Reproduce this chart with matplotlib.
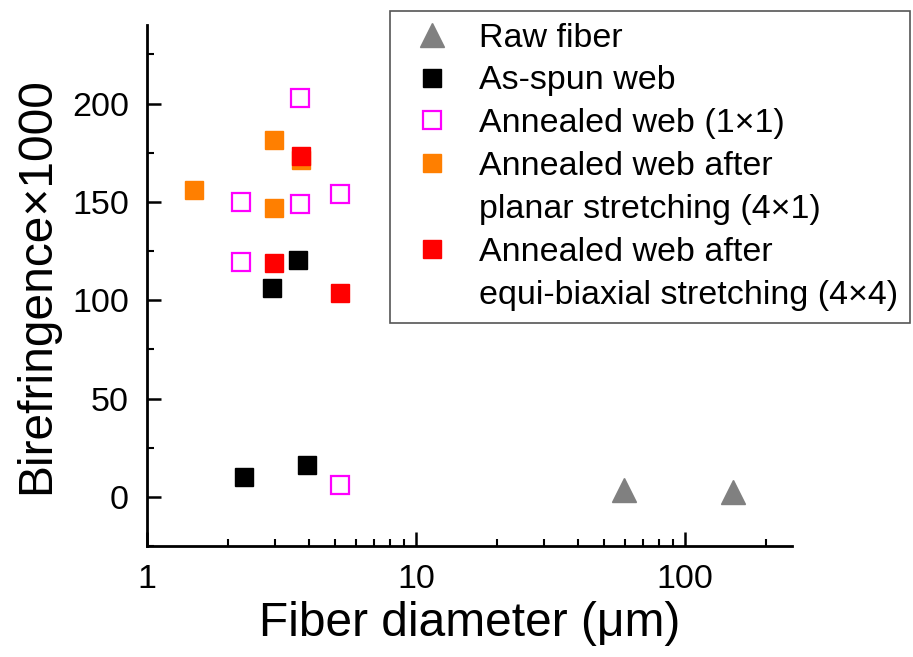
import numpy as np
import matplotlib.pyplot as plt
from matplotlib.lines import Line2D
from matplotlib.ticker import LogLocator, NullFormatter, FixedLocator

plt.rcParams['font.family'] = ['Liberation Sans', 'DejaVu Sans']

# data
raw_d = [59.5, 151]
raw_b = [3.5, 2.5]

spun_d = [2.30, 3.94, 2.92, 3.64]
spun_b = [10.2, 16.2, 106, 120.7]

ann_d = [5.2, 2.23, 5.2, 2.23, 3.71, 3.71]
ann_b = [5.8, 119.2, 153.9, 150, 148.8, 203]

planar_d = [1.49, 2.97, 2.97, 3.74]
planar_b = [156.3, 147, 181.5, 171.4]

biax_d = [2.97, 5.23, 3.74]
biax_b = [119, 103.7, 173.3]

labels = ['Raw fiber', 'As-spun web', 'Annealed web (1\u00d71)',
          'Annealed web after', 'planar stretching (4\u00d71)',
          'Annealed web after', 'equi-biaxial stretching (4\u00d74)']

fig = plt.figure(figsize=(9.13, 6.57), dpi=100)
ax = fig.add_axes([147/913, 1-546/657, (792-147)/913, (546-25)/657])

MS = 13.5
h_raw, = ax.plot(raw_d, raw_b, ls='none', marker='^', ms=17, color='#808080')
h_spun, = ax.plot(spun_d, spun_b, ls='none', marker='s', ms=MS, color='black')
h_ann, = ax.plot(ann_d, ann_b, ls='none', marker='s', ms=MS-1, mfc='white', mec='#ff00ff', mew=1.6)
h_pl, = ax.plot(planar_d, planar_b, ls='none', marker='s', ms=MS, color='#ff7f00')
h_bi, = ax.plot(biax_d, biax_b, ls='none', marker='s', ms=MS, color='#ff0000')
blank = Line2D([], [], ls='none')

ax.set_xscale('log')
ax.set_xlim(1, 250)
ax.set_ylim(-25, 240)

ax.spines['top'].set_visible(False)
ax.spines['right'].set_visible(False)
ax.spines['left'].set_linewidth(2)
ax.spines['bottom'].set_linewidth(2)

ax.yaxis.set_major_locator(FixedLocator([0, 50, 100, 150, 200]))
ax.yaxis.set_minor_locator(FixedLocator([-25, 25, 75, 125, 175, 225]))
ax.xaxis.set_major_locator(FixedLocator([1, 10, 100]))
ax.xaxis.set_minor_locator(LogLocator(base=10, subs=np.arange(2, 10)))
ax.xaxis.set_minor_formatter(NullFormatter())
ax.set_xticklabels(['1', '10', '100'])

ax.tick_params(which='major', direction='in', length=10, width=1.8, labelsize=24.5, pad=13)
ax.tick_params(which='minor', direction='in', length=5, width=1.5)

ax.set_xlabel('Fiber diameter (\u03bcm)', fontsize=34.5, labelpad=4)
ax.set_ylabel('Birefringence\u00d71000', fontsize=34.5, labelpad=9)

handles = [h_raw, h_spun, h_ann, h_pl, blank, h_bi, blank]
leg = fig.legend(handles, labels, loc='upper left', bbox_to_anchor=(390/913, 1-11/657),
                 fontsize=24.5, frameon=True, fancybox=False, edgecolor='#555555',
                 framealpha=1, handletextpad=0.49, borderpad=0.34, labelspacing=0.35,
                 handlelength=1.8, borderaxespad=0)
leg.get_frame().set_linewidth(1.2)

fig.savefig('out.png', dpi=100)
